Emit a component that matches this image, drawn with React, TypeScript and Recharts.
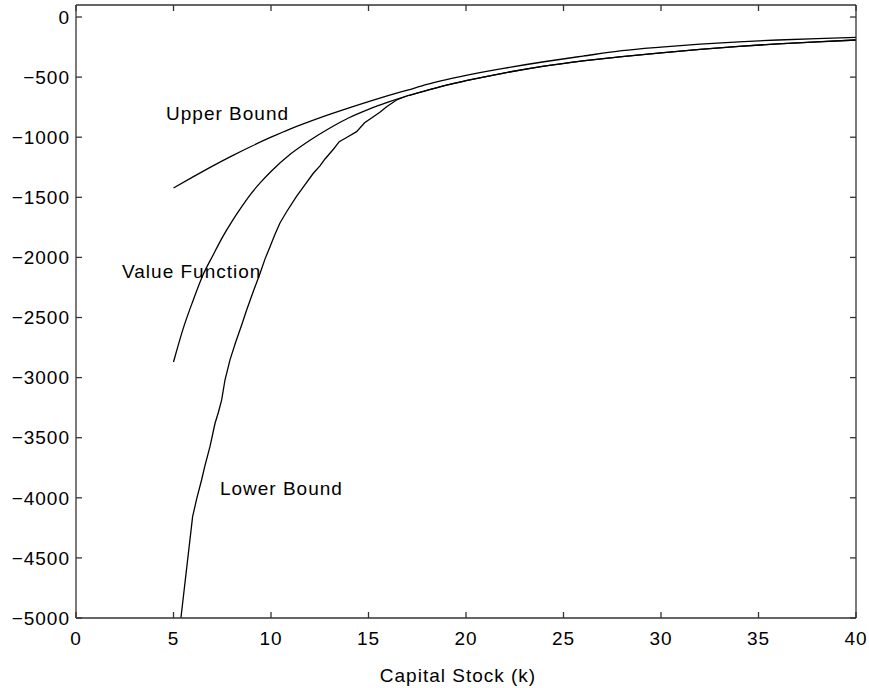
import { LineChart, Line, XAxis, YAxis, ReferenceDot } from 'recharts';

const xTicks = [0, 5, 10, 15, 20, 25, 30, 35, 40];
const yTicks = [-5000, -4500, -4000, -3500, -3000, -2500, -2000, -1500, -1000, -500, 0];

// upper bound
const upperK = [5, 6, 7, 8, 9, 10, 11, 12, 13, 14, 15, 16, 17, 18, 19, 20, 22, 24, 26, 28, 30, 32, 34, 36, 38, 40];
const upperV = [-1423, -1330, -1240, -1155, -1075, -1000, -930, -868, -810, -755, -703, -654, -608, -560, -520, -485, -425, -372, -325, -280, -250, -225, -206, -191, -179, -169];

// value function
const valueK = [5, 5.5, 6, 6.5, 7, 7.5, 8, 8.5, 9, 9.5, 10, 11, 12, 13, 14, 15, 16, 17, 18, 19, 20, 22, 24, 26, 28, 30, 32, 34, 36, 38, 40];
const valueV = [-2870, -2590, -2360, -2150, -1990, -1835, -1700, -1578, -1465, -1370, -1285, -1140, -1025, -925, -838, -768, -708, -655, -610, -567, -530, -464, -409, -365, -330, -298, -269, -244, -223, -206, -191];

// lower bound, joins the value function past ~16.5
const lowerK = [5.38, 5.98, 6.2, 6.44, 6.6, 6.87, 7.13, 7.3, 7.47, 7.64, 7.9, 8.2, 8.5, 8.75, 9.1, 9.44, 9.7, 9.95, 10.2, 10.46, 10.8, 11.3, 11.7, 12.17, 12.5, 12.77, 13.2, 13.5, 13.9, 14.39, 14.8, 15.25, 15.6, 15.93, 16.44, 17, 18, 19, 20, 22, 24, 26, 28, 30, 32, 34, 36, 38, 40];
const lowerV = [-5000, -4157, -4000, -3852, -3740, -3575, -3380, -3290, -3186, -3020, -2850, -2700, -2560, -2438, -2280, -2132, -2010, -1911, -1810, -1714, -1620, -1495, -1405, -1300, -1240, -1181, -1100, -1037, -1000, -954, -880, -829, -790, -746, -690, -655, -610, -567, -530, -464, -409, -365, -330, -298, -269, -244, -223, -206, -191];

const rows = (ks: number[], vs: number[]) => ks.map((k, i) => ({ k, v: vs[i] }));
const upperRows = rows(upperK, upperV);
const valueRows = rows(valueK, valueV);
const lowerRows = rows(lowerK, lowerV);

const font = 'Liberation Sans, Arial, Helvetica, sans-serif';
const textStyle = { fontSize: 19, fill: '#000', fontFamily: font, letterSpacing: 1 };
const frame = { stroke: '#333', strokeWidth: 1.3 };
const TICK = 6;

const fmtY = (v: number) => (v < 0 ? `\u2212${Math.abs(v)}` : String(v));

// ticks point into the plot, matlab style
const BottomTick = ({ x, y, payload }: any) => (
  <g>
    <line x1={x} x2={x} y1={y - 14} y2={y - 14 - TICK} stroke="#333" strokeWidth={1.3} />
    <text x={x} y={y} dy="0.71em" textAnchor="middle" style={textStyle}>{payload.value}</text>
  </g>
);
const LeftTick = ({ x, y, payload }: any) => (
  <g>
    <line x1={x + 6} x2={x + 6 + TICK} y1={y} y2={y} stroke="#333" strokeWidth={1.3} />
    <text x={x} y={y} dy="0.355em" textAnchor="end" style={textStyle}>{fmtY(payload.value)}</text>
  </g>
);
const TopTick = ({ x, y }: any) => (
  <line x1={x} x2={x} y1={y} y2={y + TICK} stroke="#333" strokeWidth={1.3} />
);
const RightTick = ({ x, y }: any) => (
  <line x1={x} x2={x - TICK} y1={y} y2={y} stroke="#333" strokeWidth={1.3} />
);

export default function App() {
  return (
    <div style={{ position: 'fixed', left: 0, top: 0, width: 869, height: 688, background: '#fff', fontFamily: font }}>
      <LineChart width={869} height={688} data={valueRows} margin={{ top: 4, right: 12, left: 0, bottom: 0 }}>
        <XAxis
          dataKey="k"
          type="number"
          domain={[0, 40]}
          ticks={xTicks}
          allowDataOverflow
          height={70}
          tickSize={0}
          tickMargin={14}
          axisLine={frame}
          tickLine={false}
          tick={<BottomTick />}
          label={{ value: 'Capital Stock (k)', position: 'insideBottom', offset: 6, dx: -8, style: textStyle }}
        />
        <XAxis
          xAxisId="top"
          dataKey="k"
          orientation="top"
          type="number"
          domain={[0, 40]}
          ticks={xTicks}
          allowDataOverflow
          height={1}
          tickSize={0}
          tickMargin={0}
          tick={<TopTick />}
          axisLine={frame}
          tickLine={false}
        />
        <YAxis
          type="number"
          domain={[-5000, 100]}
          ticks={yTicks}
          allowDataOverflow
          width={76}
          tickSize={0}
          tickMargin={6}
          axisLine={frame}
          tickLine={false}
          tick={<LeftTick />}
        />
        <YAxis
          yAxisId="right"
          orientation="right"
          type="number"
          domain={[-5000, 100]}
          ticks={yTicks}
          allowDataOverflow
          width={1}
          tickSize={0}
          tickMargin={0}
          tick={<RightTick />}
          axisLine={frame}
          tickLine={false}
        />
        <Line data={upperRows} xAxisId="top" yAxisId="right" dataKey="v" type="monotone" stroke="#000" strokeWidth={1.3} dot={false} isAnimationActive={false} />
        <Line data={valueRows} dataKey="v" type="monotone" stroke="#000" strokeWidth={1.3} dot={false} isAnimationActive={false} />
        <Line data={lowerRows} dataKey="v" type="linear" stroke="#000" strokeWidth={1.3} dot={false} isAnimationActive={false} />
        <ReferenceDot x={4.62} y={-800} r={0} stroke="none" label={{ value: 'Upper Bound', position: 'right', offset: 0, style: textStyle }} />
        <ReferenceDot x={2.36} y={-2113} r={0} stroke="none" label={{ value: 'Value Function', position: 'right', offset: 0, style: textStyle }} />
        <ReferenceDot x={7.38} y={-3918} r={0} stroke="none" label={{ value: 'Lower Bound', position: 'right', offset: 0, style: textStyle }} />
      </LineChart>
    </div>
  );
}
